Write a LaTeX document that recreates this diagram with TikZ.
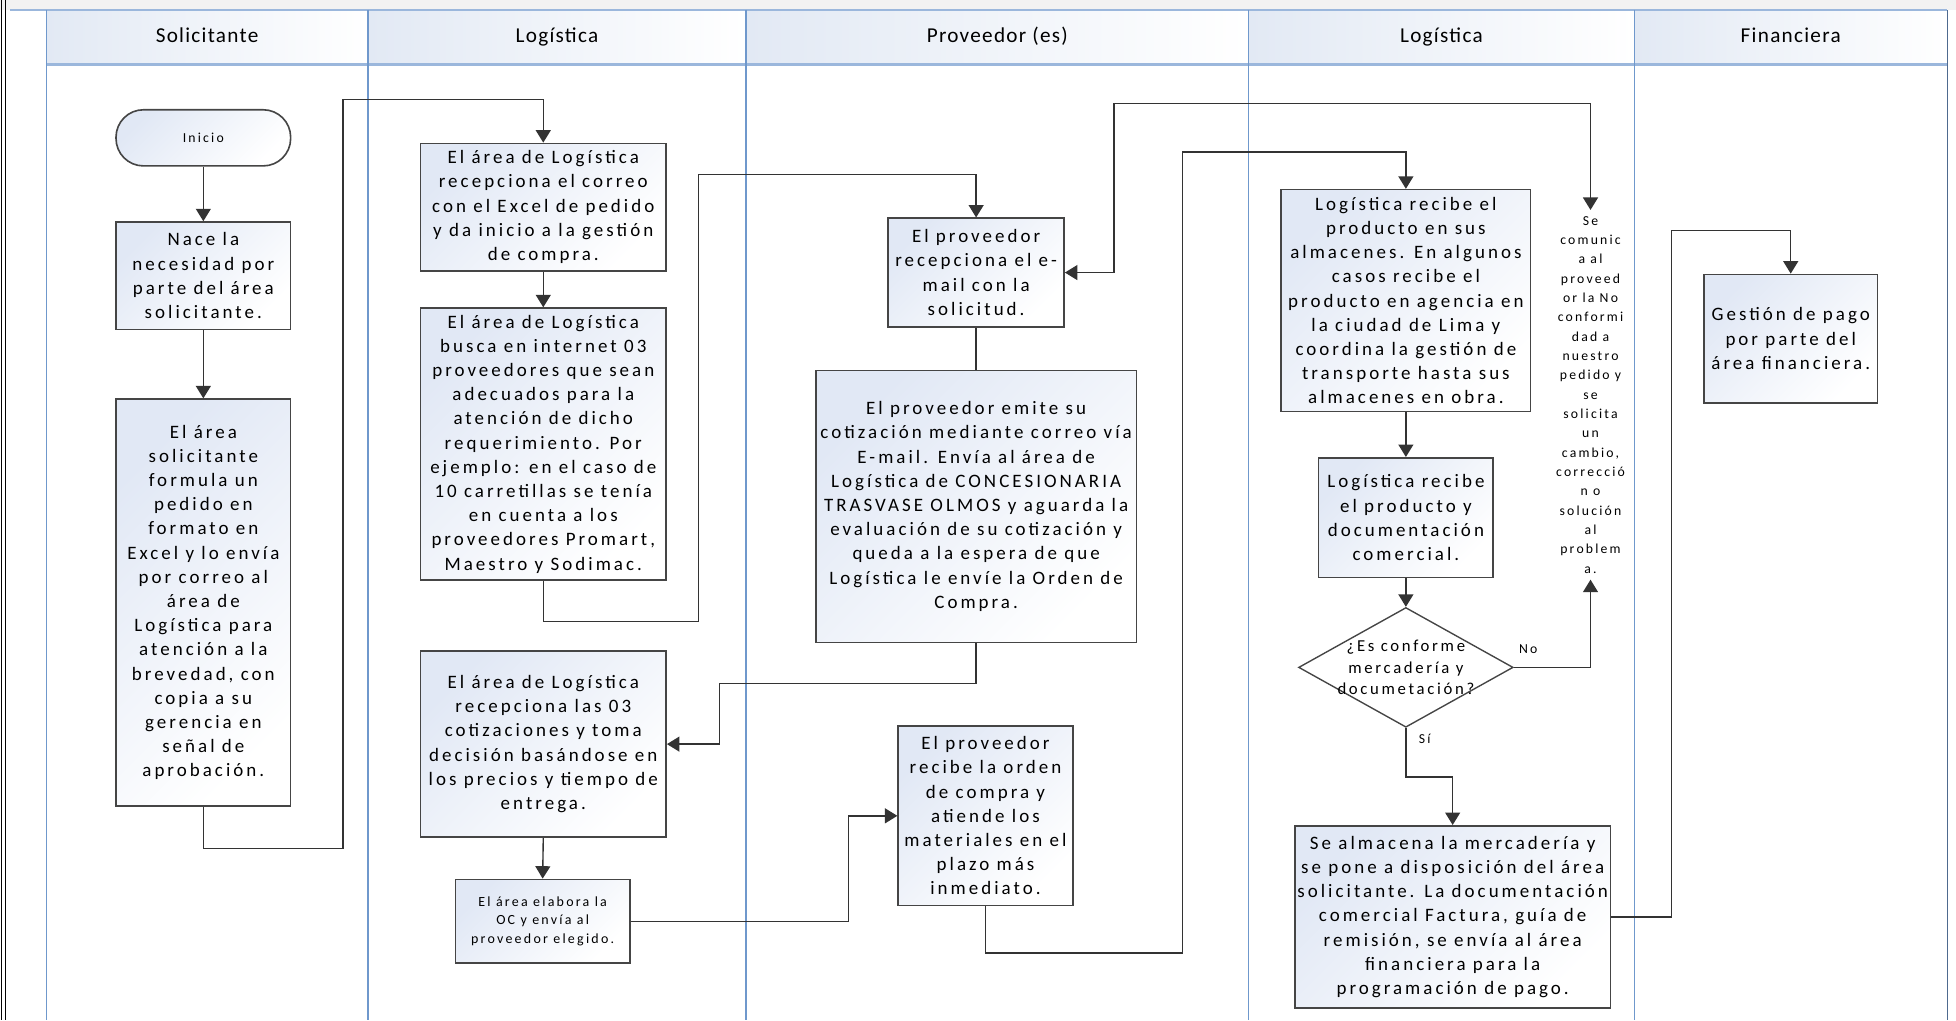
\documentclass[tikz,border=0pt]{standalone}
\usepackage{fontspec}
\setmainfont{Carlito}[LetterSpace=16]
\newfontfamily\hdrfont{Carlito}[LetterSpace=6]
\usetikzlibrary{arrows.meta,shapes.geometric}
\definecolor{laneblue}{HTML}{6F98CC}
\definecolor{hdrline}{HTML}{9BB7DC}
\definecolor{hdrfill}{HTML}{E2E9F4}
\definecolor{boxfill}{HTML}{E1E8F5}
\definecolor{boxline}{HTML}{454545}
\definecolor{wire}{HTML}{333333}
\tikzset{
  stepbox/.style={draw=boxline, line width=1.3pt, top color=boxfill, bottom color=white,
    shading angle=45, inner sep=0pt, align=center, font=\fontsize{15.2}{19.4}\selectfont},
  smallbox/.style={stepbox, font=\fontsize{11.2}{14.6}\selectfont},
  decision/.style={diamond, draw=boxline, line width=1.1pt, fill=white, inner sep=-14pt,
    minimum width=172pt, minimum height=96pt, aspect=1.8, align=center,
    font=\fontsize{13.4}{17}\selectfont},
  note/.style={inner sep=0pt, align=center, font=\fontsize{11}{15.5}\selectfont},
  lbl/.style={inner sep=0pt, font=\fontsize{11}{13}\selectfont},
  lanehead/.style={inner sep=0pt, text height=12pt, text depth=4pt,
    font=\hdrfont\fontsize{17}{20}\selectfont},
  arr/.style={draw=wire, line width=1.1pt, -{Triangle[length=10pt,width=12pt]}},
  wire/.style={draw=wire, line width=1.1pt},
}
\begin{document}
\begin{tikzpicture}[x=1pt, y=-1pt]
\useasboundingbox (0,0) rectangle (1568,818);

% outer frame and top strip
\fill[gray!10] (0,0) rectangle (1568,8);
\draw[black, line width=0.8pt] (1.5,0) -- (1.5,818);
\draw[black, line width=0.8pt] (4.5,0) -- (4.5,818);

% lane header cells
\foreach \xa/\xb in {37/295, 295/598, 598/1001, 1001/1310, 1310/1561}
  \shade[left color=hdrfill, right color=white] (\xa,8) rectangle (\xb,52);
\draw[hdrline, line width=2pt] (8,8) -- (1561,8);
\draw[hdrline, line width=2.5pt] (37,52) -- (1561,52);
\foreach \xx in {37, 295, 598, 1001, 1310}
  \draw[laneblue, line width=1pt] (\xx,8) -- (\xx,818);
\draw[laneblue!70!black, line width=1.2pt] (1561,8) -- (1561,818);

\node[lanehead] (h1) at (166,30) {Solicitante};
\node[lanehead] (h2) at (446.5,30) {Logística};
\node[lanehead] (h3) at (799.5,30) {Proveedor (es)};
\node[lanehead] (h4) at (1155.5,30) {Logística};
\node[lanehead] (h5) at (1435.5,30) {Financiera};

% Solicitante
\node[stepbox, rounded corners=22pt, minimum width=140pt, minimum height=45pt,
      font=\fontsize{11}{13}\selectfont] (ini) at (163,110.5) {Inicio};
\node[stepbox, minimum width=140pt, minimum height=86pt] (nace) at (163,221)
  {Nace la\\necesidad por\\parte del área\\solicitante.};
\node[stepbox, minimum width=140pt, minimum height=326pt] (sol) at (163,483)
  {El área\\solicitante\\formula un\\pedido en\\formato en\\Excel y lo envía\\por correo al\\área de\\Logística para\\atención a la\\brevedad, con\\copia a su\\gerencia en\\señal de\\aprobación.};

% Logística
\node[stepbox, minimum width=197pt, minimum height=102pt] (l1) at (435.5,166)
  {El área de Logística\\recepciona el correo\\con el Excel de pedido\\y da inicio a la gestión\\de compra.};
\node[stepbox, minimum width=197pt, minimum height=218pt] (l2) at (435.5,356)
  {El área de Logística\\busca en internet 03\\proveedores que sean\\adecuados para la\\atención de dicho\\requerimiento. Por\\ejemplo: en el caso de\\10 carretillas se tenía\\en cuenta a los\\proveedores Promart,\\Maestro y Sodimac.};
\node[stepbox, minimum width=197pt, minimum height=149pt] (l3) at (435.5,596.5)
  {El área de Logística\\recepciona las 03\\cotizaciones y toma\\decisión basándose en\\los precios y tiempo de\\entrega.};
\node[smallbox, minimum width=140pt, minimum height=67pt] (l4) at (435,738.5)
  {El área elabora la\\OC y envía al\\proveedor elegido.};

% Proveedor (es)
\node[stepbox, minimum width=141pt, minimum height=87pt] (p1) at (782.5,218.5)
  {El proveedor\\recepciona el e-\\mail con la\\solicitud.};
\node[stepbox, minimum width=257pt, minimum height=218pt] (p2) at (782.5,406)
  {El proveedor emite su\\cotización mediante correo vía\\E-mail. Envía al área de\\Logística de CONCESIONARIA\\TRASVASE OLMOS y aguarda la\\evaluación de su cotización y\\queda a la espera de que\\Logística le envíe la Orden de\\Compra.};
\node[stepbox, minimum width=140pt, minimum height=144pt] (p3) at (790,654)
  {El proveedor\\recibe la orden\\de compra y\\atiende los\\materiales en el\\plazo más\\inmediato.};

% Logística (recepción)
\node[stepbox, minimum width=200pt, minimum height=178pt] (g1) at (1127,241)
  {Logística recibe el\\producto en sus\\almacenes. En algunos\\casos recibe el\\producto en agencia en\\la ciudad de Lima y\\coordina la gestión de\\transporte hasta sus\\almacenes en obra.};
\node[stepbox, minimum width=140pt, minimum height=96pt] (g2) at (1127,415)
  {Logística recibe\\el producto y\\documentación\\comercial.};
\node[decision] (dm) at (1127,535)
  {¿Es conforme\\mercadería y\\documetación?};
\node[note, minimum height=296pt] (nc) at (1275,316.5)
  {Se\\comunic\\a al\\proveed\\or la No\\conformi\\dad a\\nuestro\\pedido y\\se\\solicita\\un\\cambio,\\correcció\\n o\\solución\\al\\problem\\a.};
\node[stepbox, minimum width=253pt, minimum height=146pt] (g3) at (1164.5,735)
  {Se almacena la mercadería y\\se pone a disposición del área\\solicitante. La documentación\\comercial Factura, guía de\\remisión, se envía al área\\financiera para la\\programación de pago.};

% Financiera
\node[stepbox, minimum width=139pt, minimum height=103pt] (f1) at (1435.5,271.5)
  {Gestión de pago\\por parte del\\área financiera.};

% connectors
\draw[arr] (ini.south) -- (nace.north);
\draw[arr] (nace.south) -- (sol.north);
\draw[arr] (sol.south) |- (275,680) |- (l1.north |- 0,80) -- (l1.north);
\draw[arr] (l1.south) -- (l2.north);
\draw[arr] (l2.south) |- (560,498) |- (p1.north |- 0,140) -- (p1.north);
\draw[wire] (p1.south) -- (p2.north);
\draw[arr] (p2.south) |- (577,548) |- (l3.east);
\draw[arr] (l3.south) -- (l4.north);
\draw[arr] (l4.east) -- (l4.east -| 680,0) |- (p3.west);
\draw[arr] (p3.south) |- (948,764) |- (g1.north |- 0,122) -- (g1.north);
\draw[arr] (g1.south) -- (g2.north);
\draw[arr] (g2.south) -- (dm.north);
\draw[arr] (dm.east) -| (nc.south);
\draw[wire, {Triangle[length=10pt,width=12pt]}-{Triangle[length=10pt,width=12pt]}]
  (nc.north) |- (893,83) |- (p1.east);
\draw[arr] (dm.south) |- (g3.north |- 0,623) -- (g3.north);
\draw[arr] (g3.east) -- (g3.east -| 1340,0) |- (f1.north |- 0,185) -- (f1.north);

\node[lbl] (no) at (1225,520) {No};
\node[lbl] (si) at (1142,592) {Sí};
\end{tikzpicture}
\end{document}
